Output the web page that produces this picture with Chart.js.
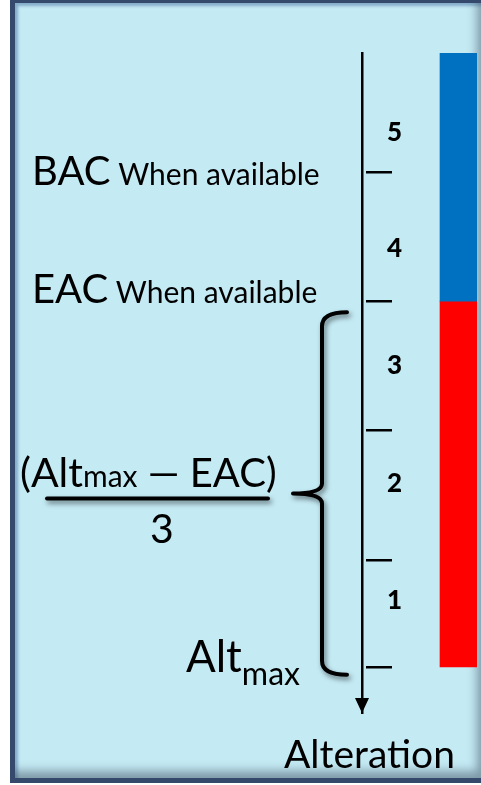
<!DOCTYPE html>
<html>
<head>
<meta charset="utf-8">
<script src="https://cdn.jsdelivr.net/npm/chart.js@4"></script>
<style>
  html, body { margin: 0; padding: 0; background: #fff; overflow: hidden; }
  .panel {
    position: absolute;
    left: 10px;
    top: -2px;
    width: 481px;
    height: 785px;
    box-sizing: border-box;
    border: 5px solid #34496b;
    background: #c4eaf4;
    box-shadow:
      inset -14px -12px 10px -5px rgba(70, 90, 105, .55),
      inset 4px 4px 3px -1px rgba(70, 110, 160, .5);
  }
  canvas { position: absolute; left: 0; top: 0; }
</style>
</head>
<body>
<div class="panel"></div>
<canvas id="chart" width="481" height="785"></canvas>
<script>
'use strict'

// alteration scale (0 = top of the axis, 10 = arrow tip)
const columns = ['notes', 'axis', 'zone']

const tickNames = ['BAC', 'EAC', 'EAC + 1/3', 'EAC + 2/3', 'Altmax']
const tickValues = [1.80, 3.76, 5.71, 7.68, 9.30]

const levelLabels = ['5', '4', '3', '2', '1']
const levelValues = [1.20, 2.97, 4.74, 6.53, 8.30]

const zoneNames = ['upper', 'lower']
const zoneStart = [0, 3.76]
const zoneEnd = [3.76, 9.30]

const zoneColors = ['#0070c0', '#ff0000']

const font = (size, weight = 'normal') => `${weight} ${size}px Lato`

// draws runs of [text, font, dy] left to right from x
function write(ctx, x, baseline, parts) {
  for (const [text, f, dy = 0] of parts) {
    ctx.font = f
    ctx.fillText(text, x, baseline + dy)
    x += ctx.measureText(text).width
  }
  return x
}

const notes = {
  id: 'notes',
  afterDraw(chart) {
    const { ctx } = chart
    const y = chart.scales.y
    const axisX = y.right
    const at = name => y.getPixelForValue(tickValues[tickNames.indexOf(name)])
    const bac = at('BAC')
    const eac = at('EAC')
    const alt = at('Altmax')
    const tip = y.getPixelForValue(y.max)

    ctx.save()
    ctx.fillStyle = '#000'
    ctx.strokeStyle = '#000'
    ctx.textBaseline = 'alphabetic'

    // arrow head
    ctx.beginPath()
    ctx.moveTo(axisX, tip)
    ctx.lineTo(axisX - 7, tip - 15)
    ctx.lineTo(axisX + 7, tip - 15)
    ctx.closePath()
    ctx.fill()

    write(ctx, 32, bac + 13, [['BAC', font(40)], [' When available', font(30)]])
    write(ctx, 32, eac + 2, [['EAC', font(40)], [' When available', font(30)]])

    ctx.font = font(39)
    ctx.fillText('Alteration', 284, tip + 55)

    write(ctx, 186, alt + 5, [['Alt', font(44)], ['max', font(32), 13]])

    // brace from EAC down to Altmax
    const top = eac + 11
    const bot = alt + 8
    const mid = (top + bot) / 2
    const bx = axisX - 40
    const endX = axisX - 15
    const tipX = axisX - 69

    ctx.shadowColor = 'rgba(0, 0, 0, 0.5)'
    ctx.shadowBlur = 5
    ctx.shadowOffsetX = 2
    ctx.shadowOffsetY = 3
    ctx.lineWidth = 4
    ctx.lineCap = 'round'
    ctx.lineJoin = 'round'
    ctx.beginPath()
    ctx.moveTo(endX, top)
    ctx.quadraticCurveTo(bx, top, bx, top + 14)
    ctx.lineTo(bx, mid - 10)
    ctx.quadraticCurveTo(bx, mid, tipX, mid)
    ctx.quadraticCurveTo(bx, mid, bx, mid + 10)
    ctx.lineTo(bx, bot - 14)
    ctx.quadraticCurveTo(bx, bot, endX, bot)
    ctx.stroke()

    // fraction bar
    ctx.beginPath()
    ctx.moveTo(47, mid + 5)
    ctx.lineTo(268, mid + 5)
    ctx.stroke()

    ctx.shadowColor = 'transparent'
    write(ctx, 20, mid - 6, [['(Alt', font(41)], ['max', font(30)], [' \u2014 EAC)', font(40)]])
    ctx.font = font(41)
    ctx.textAlign = 'center'
    ctx.fillText('3', 162, mid + 50)

    ctx.restore()
  }
}

const valueRange = { type: 'linear', min: 0, max: 10, reverse: true, position: 'left' }

new Chart(document.getElementById('chart'), {
  type: 'bar',
  data: {
    labels: columns,
    datasets: zoneNames.map((name, i) => ({
      label: name,
      yAxisID: 'y',
      data: columns.map((c, j) => j === columns.length - 1 ? [zoneStart[i], zoneEnd[i]] : null),
      backgroundColor: zoneColors[i],
      borderWidth: 0,
      grouped: false,
      barPercentage: 1,
      categoryPercentage: 1
    }))
  },
  options: {
    responsive: false,
    animation: false,
    events: [],
    layout: { padding: { left: 362, right: 4, top: 53, bottom: 72 } },
    plugins: {
      legend: { display: false },
      tooltip: { enabled: false }
    },
    scales: {
      x: { display: false },

      // the axis line itself
      y: {
        ...valueRange,
        weight: 1,
        afterFit: s => { s.width = 0 },
        grid: { display: false },
        ticks: { display: false },
        border: { display: true, color: '#000', width: 2.5 }
      },

      // short tick marks right of the axis line
      marks: {
        ...valueRange,
        weight: 0,
        afterFit: s => { s.width = 4 },
        afterBuildTicks: s => { s.ticks = tickValues.map(value => ({ value })) },
        grid: {
          display: true,
          drawOnChartArea: false,
          drawTicks: true,
          tickLength: -26,
          color: '#000',
          lineWidth: 2.5
        },
        ticks: { display: false },
        border: { display: false }
      },

      // level numbers between the marks
      levels: {
        ...valueRange,
        weight: 2,
        afterFit: s => { s.width = 0 },
        afterBuildTicks: s => { s.ticks = levelValues.map(value => ({ value })) },
        grid: { display: false },
        border: { display: false },
        ticks: {
          mirror: true,
          padding: 25,
          autoSkip: false,
          color: '#000',
          font: { family: 'Lato', size: 26, weight: '900' },
          callback: (v, i) => levelLabels[i]
        }
      }
    }
  },
  plugins: [notes]
})
</script>
</body>
</html>
